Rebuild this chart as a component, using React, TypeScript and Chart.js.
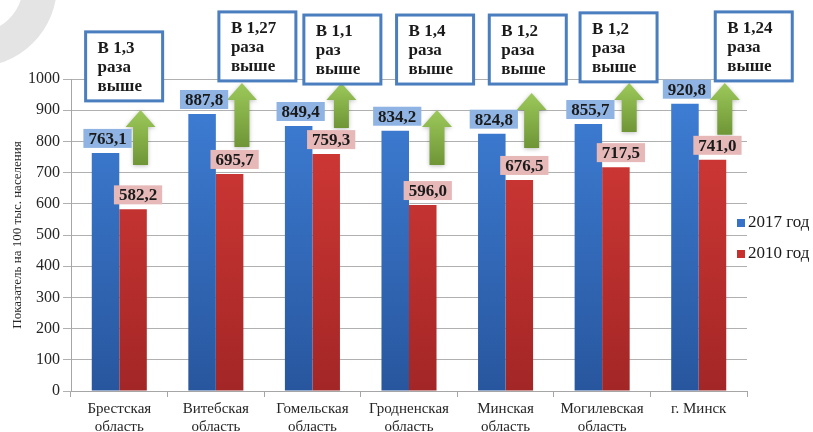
import { useEffect, useRef } from "react";
import { Chart, registerables } from "chart.js";

Chart.register(...registerables);

const categories: string[][] = [
  ["Брестская", "область"],
  ["Витебская", "область"],
  ["Гомельская", "область"],
  ["Гродненская", "область"],
  ["Минская", "область"],
  ["Могилевская", "область"],
  ["г. Минск"],
];
const values2017 = [763.1, 887.8, 849.4, 834.2, 824.8, 855.7, 920.8];
const values2010 = [582.2, 695.7, 759.3, 596.0, 676.5, 717.5, 741.0];
const seriesNames = ["2017 год", "2010 год"];
const ratioTexts: string[][] = [
  ["В 1,3", "раза", "выше"],
  ["В 1,27", "раза", "выше"],
  ["В 1,1", "раз", "выше"],
  ["В 1,4", "раза", "выше"],
  ["В 1,2", "раза", "выше"],
  ["В 1,2", "раза", "выше"],
  ["В 1,24", "раза", "выше"],
];
const yAxisTitle = "Показатель на 100 тыс. населения";
const yMin = 0;
const yMax = 1000;
const yStep = 100;

// placement of the callout boxes and arrows (offset in category units, levels in axis values)
const boxOffsets = [0.05, 0.43, 0.31, 0.27, 0.23, 0.17, 0.57];
const boxTops = [1151, 1215, 1205, 1205, 1205, 1212, 1215];
const arrowOffsets = [0.22, 0.27, 0.3, 0.29, 0.27, 0.28, 0.27];
const arrowTips = [901, 987, 987, 901, 955, 987, 987];
const arrowBases = [724, 782, 843, 724, 779, 830, 821];

const SERIF = '"Liberation Serif", "Times New Roman", serif';
const BLUE_TOP = "#3f80d8";
const BLUE_BOT = "#28569e";
const RED_TOP = "#d93c38";
const RED_BOT = "#a32626";

const fmt = (v: number) => v.toFixed(1).replace(".", ",");

function vGrad(chart: any, top: string, bot: string) {
  const area = chart.chartArea;
  if (!area) return top;
  const g = chart.ctx.createLinearGradient(0, area.top, 0, area.bottom);
  g.addColorStop(0, top);
  g.addColorStop(1, bot);
  return g;
}

const overlayPlugin = {
  id: "overlay",
  beforeDraw(chart: any) {
    const ctx = chart.ctx;
    ctx.save();
    ctx.strokeStyle = "#e4e4e4";
    ctx.lineWidth = 34;
    ctx.beginPath();
    ctx.arc(-25, -15, 65, 0, Math.PI * 2);
    ctx.stroke();
    ctx.restore();
  },
  afterDatasetsDraw(chart: any) {
    const ctx = chart.ctx;
    const xs = chart.scales.x;
    const ys = chart.scales.y;
    const catW = (xs.right - xs.left) / categories.length;
    const m0 = chart.getDatasetMeta(0);
    const m1 = chart.getDatasetMeta(1);

    // arrows
    categories.forEach((_, i) => {
      const cx = xs.getPixelForValue(i) + arrowOffsets[i] * catW;
      const tip = ys.getPixelForValue(arrowTips[i]);
      const base = ys.getPixelForValue(arrowBases[i]);
      const headH = 17;
      const headW = 15;
      const shaftW = 7.5;
      ctx.save();
      const g = ctx.createLinearGradient(0, tip, 0, base);
      g.addColorStop(0, "#9cc95a");
      g.addColorStop(1, "#6f9536");
      ctx.fillStyle = g;
      ctx.shadowColor = "rgba(0,0,0,0.25)";
      ctx.shadowBlur = 4;
      ctx.shadowOffsetY = 1;
      ctx.beginPath();
      ctx.moveTo(cx, tip);
      ctx.lineTo(cx + headW, tip + headH);
      ctx.lineTo(cx + shaftW, tip + headH);
      ctx.lineTo(cx + shaftW, base);
      ctx.lineTo(cx - shaftW, base);
      ctx.lineTo(cx - shaftW, tip + headH);
      ctx.lineTo(cx - headW, tip + headH);
      ctx.closePath();
      ctx.fill();
      ctx.restore();
    });

    // value labels
    const drawLabel = (bar: any, v: number, bg: string, dx: number) => {
      ctx.save();
      ctx.font = `bold 17px ${SERIF}`;
      const t = fmt(v);
      const w = ctx.measureText(t).width + 10;
      const h = 19;
      const cx = bar.x + dx;
      const bottom = bar.y - 5;
      ctx.fillStyle = bg;
      ctx.fillRect(cx - w / 2, bottom - h, w, h);
      ctx.fillStyle = "#1a1a1a";
      ctx.textAlign = "center";
      ctx.textBaseline = "middle";
      ctx.fillText(t, cx, bottom - h / 2 + 1);
      ctx.restore();
    };
    m0.data.forEach((bar: any, i: number) => drawLabel(bar, values2017[i], "#8fb4e3", 2));
    m1.data.forEach((bar: any, i: number) => drawLabel(bar, values2010[i], "#e6b9b8", 5));

    // callout boxes
    categories.forEach((_, i) => {
      const cx = xs.getPixelForValue(i) + boxOffsets[i] * catW;
      const top = ys.getPixelForValue(boxTops[i]);
      const w = 77;
      const h = 69;
      const left = cx - w / 2;
      ctx.save();
      ctx.fillStyle = "#ffffff";
      ctx.shadowColor = "rgba(0,0,0,0.2)";
      ctx.shadowBlur = 3;
      ctx.fillRect(left, top, w, h);
      ctx.shadowColor = "transparent";
      ctx.strokeStyle = "#4a7ebf";
      ctx.lineWidth = 3;
      ctx.strokeRect(left, top, w, h);
      ctx.fillStyle = "#1a1a1a";
      ctx.font = `bold 17px ${SERIF}`;
      ctx.textAlign = "left";
      ctx.textBaseline = "middle";
      ratioTexts[i].forEach((line, k) => {
        ctx.fillText(line, left + 12, top + 17 + k * 19);
      });
      ctx.restore();
    });

    // legend
    const ca = chart.chartArea;
    const midY = (ca.top + ca.bottom) / 2;
    ctx.save();
    ctx.font = `17px ${SERIF}`;
    ctx.textBaseline = "middle";
    ctx.textAlign = "left";
    seriesNames.forEach((name, k) => {
      const y = midY - 12 + k * 31;
      ctx.fillStyle = k === 0 ? "#3572c8" : "#c8302e";
      ctx.fillRect(ca.right - 10, y - 4, 8, 8);
      ctx.fillStyle = "#1a1a1a";
      ctx.fillText(name, ca.right + 1, y);
    });
    ctx.restore();
  },
};

export default function App() {
  const ref = useRef<HTMLCanvasElement>(null);
  useEffect(() => {
    document.body.style.margin = "0";
    const canvas = ref.current;
    if (!canvas) return;
    const chart = new Chart(canvas, {
      type: "bar",
      data: {
        labels: categories,
        datasets: [
          {
            label: seriesNames[0],
            data: values2017,
            backgroundColor: (c: any) => vGrad(c.chart, BLUE_TOP, BLUE_BOT),
            categoryPercentage: 0.57,
            barPercentage: 1,
          },
          {
            label: seriesNames[1],
            data: values2010,
            backgroundColor: (c: any) => vGrad(c.chart, RED_TOP, RED_BOT),
            categoryPercentage: 0.57,
            barPercentage: 1,
          },
        ],
      },
      options: {
        responsive: false,
        animation: false,
        layout: { padding: { top: 79, right: 66, left: 0, bottom: 0 } },
        plugins: { legend: { display: false }, tooltip: { enabled: false } },
        scales: {
          x: {
            grid: { display: true, drawOnChartArea: false, drawTicks: true, tickLength: 6, color: "#a6a6a6", offset: true },
            border: { color: "#a6a6a6" },
            ticks: {
              font: { family: SERIF, size: 15, lineHeight: 1.22 },
              color: "#262626",
              maxRotation: 0,
              autoSkip: false,
              padding: 3,
            },
            afterFit: (s: any) => {
              s.height = 41;
            },
          },
          y: {
            min: yMin,
            max: yMax,
            ticks: {
              stepSize: yStep,
              font: { family: SERIF, size: 16 },
              color: "#262626",
              padding: 3,
              callback: (v: any) => String(v),
            },
            grid: { color: "#b0b0b0", tickLength: 8 },
            border: { color: "#a6a6a6" },
            title: {
              display: true,
              text: yAxisTitle,
              font: { family: SERIF, size: 13 },
              color: "#262626",
              padding: { top: 10, bottom: 0 },
            },
            afterFit: (s: any) => {
              s.width = 71;
            },
          },
        },
      },
      plugins: [overlayPlugin],
    } as any);
    return () => chart.destroy();
  }, []);
  return <canvas ref={ref} width={813} height={432} />;
}
